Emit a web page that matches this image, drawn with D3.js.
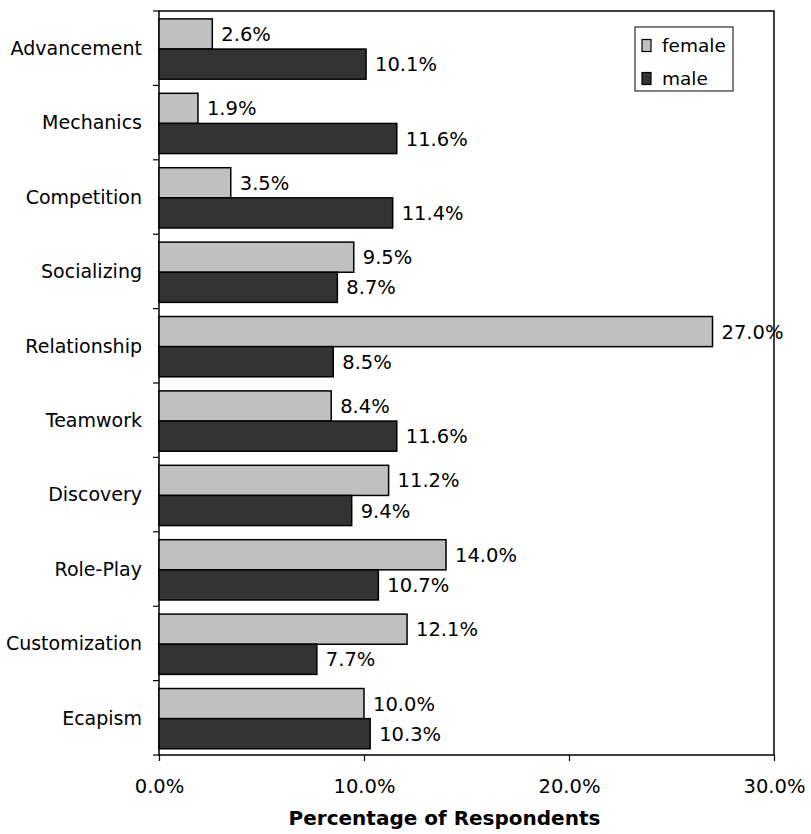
<!DOCTYPE html>
<html>
<head>
<meta charset="utf-8">
<script src="https://cdn.jsdelivr.net/npm/d3@7"></script>
<style>
  html, body { margin: 0; padding: 0; background: #fff; }
  text { font-family: "DejaVu Sans", Verdana, sans-serif; fill: #000; }
</style>
</head>
<body>
<svg id="chart" width="811" height="834"></svg>
<script>
// Motivation components, share of respondents (%)
const categories = ["Advancement", "Mechanics", "Competition", "Socializing", "Relationship",
                    "Teamwork", "Discovery", "Role-Play", "Customization", "Ecapism"];
const female = [2.6, 1.9, 3.5, 9.5, 27.0, 8.4, 11.2, 14.0, 12.1, 10.0];
const male   = [10.1, 11.6, 11.4, 8.7, 8.5, 11.6, 9.4, 10.7, 7.7, 10.3];
const seriesNames = ["female", "male"];
const xTicks = [0, 10, 20, 30];

const colors = { female: "#c0c0c0", male: "#333333" };
const FONT = "\"DejaVu Sans\", Verdana, sans-serif";

const svg = d3.select("#chart");
const margin = { left: 159, right: 37, top: 11, bottom: 79 };
const W = 811, H = 834;
const plotW = W - margin.left - margin.right;
const plotH = H - margin.top - margin.bottom;

const g = svg.append("g").attr("transform", `translate(${margin.left},${margin.top})`);

const x = d3.scaleLinear().domain([0, 30]).range([0, plotW]);
const y = d3.scaleBand().domain(categories).range([0, plotH]).paddingInner(0.19).paddingOuter(0.095).align(0.56);
const ySub = d3.scaleBand().domain(seriesNames).range([0, y.bandwidth()]);

const rows = categories.map((c, i) => ({ cat: c, female: female[i], male: male[i] }));

// plot frame
g.append("rect").attr("x", 0).attr("y", 0).attr("width", plotW).attr("height", plotH)
  .attr("fill", "none").attr("stroke", "#000").attr("stroke-width", 1.5);

// bars with value labels
const groups = g.selectAll("g.row").data(rows).join("g")
  .attr("class", "row")
  .attr("transform", d => `translate(0,${y(d.cat)})`);

seriesNames.forEach(s => {
  groups.append("rect")
    .attr("x", 0)
    .attr("y", ySub(s))
    .attr("width", d => x(d[s]))
    .attr("height", ySub.bandwidth())
    .attr("fill", colors[s])
    .attr("stroke", "#000")
    .attr("stroke-width", 1.5);
  groups.append("text")
    .attr("x", d => x(d[s]) + 9)
    .attr("y", ySub(s) + ySub.bandwidth() / 2)
    .attr("dy", "0.36em")
    .attr("font-size", 19.5)
    .text(d => d[s].toFixed(1) + "%");
});

// category axis: ticks at band boundaries, labels centred in each band
const step = plotH / categories.length;
const yBounds = d3.range(categories.length + 1).map(i => i * step);
g.selectAll("line.ytick").data(yBounds).join("line")
  .attr("class", "ytick")
  .attr("x1", -6).attr("x2", 0)
  .attr("y1", d => d).attr("y2", d => d)
  .attr("stroke", "#000").attr("stroke-width", 1.2);
g.selectAll("text.ylabel").data(categories).join("text")
  .attr("class", "ylabel")
  .attr("x", -17)
  .attr("y", (d, i) => (i + 0.5) * step)
  .attr("dy", "0.36em")
  .attr("text-anchor", "end")
  .attr("font-size", 19)
  .text(d => d);

// value axis
const xAxis = g.append("g").attr("transform", `translate(0,${plotH})`)
  .call(d3.axisBottom(x).tickValues(xTicks).tickSize(6).tickPadding(18)
    .tickFormat(d => d.toFixed(1) + "%"));
xAxis.select(".domain").remove();
xAxis.selectAll("line").attr("stroke", "#000").attr("stroke-width", 1.2);
xAxis.selectAll("text").attr("font-size", 19.5).attr("font-family", FONT).attr("fill", "#000");

g.append("text")
  .attr("x", plotW / 2 - 22)
  .attr("y", plotH + 70)
  .attr("text-anchor", "middle")
  .attr("font-size", 20)
  .attr("font-weight", "bold")
  .text("Percentage of Respondents");

// legend
const lg = svg.append("g").attr("transform", "translate(635,27)");
lg.append("rect").attr("width", 98).attr("height", 64)
  .attr("fill", "#fff").attr("stroke", "#000").attr("stroke-width", 1);
seriesNames.forEach((s, i) => {
  lg.append("rect").attr("x", 7).attr("y", 12.5 + i * 33).attr("width", 9).attr("height", 12)
    .attr("fill", colors[s]).attr("stroke", "#000").attr("stroke-width", 1.2);
  lg.append("text").attr("x", 27).attr("y", 18.5 + i * 33).attr("dy", "0.36em")
    .attr("font-size", 18.5).text(s);
});
</script>
</body>
</html>
